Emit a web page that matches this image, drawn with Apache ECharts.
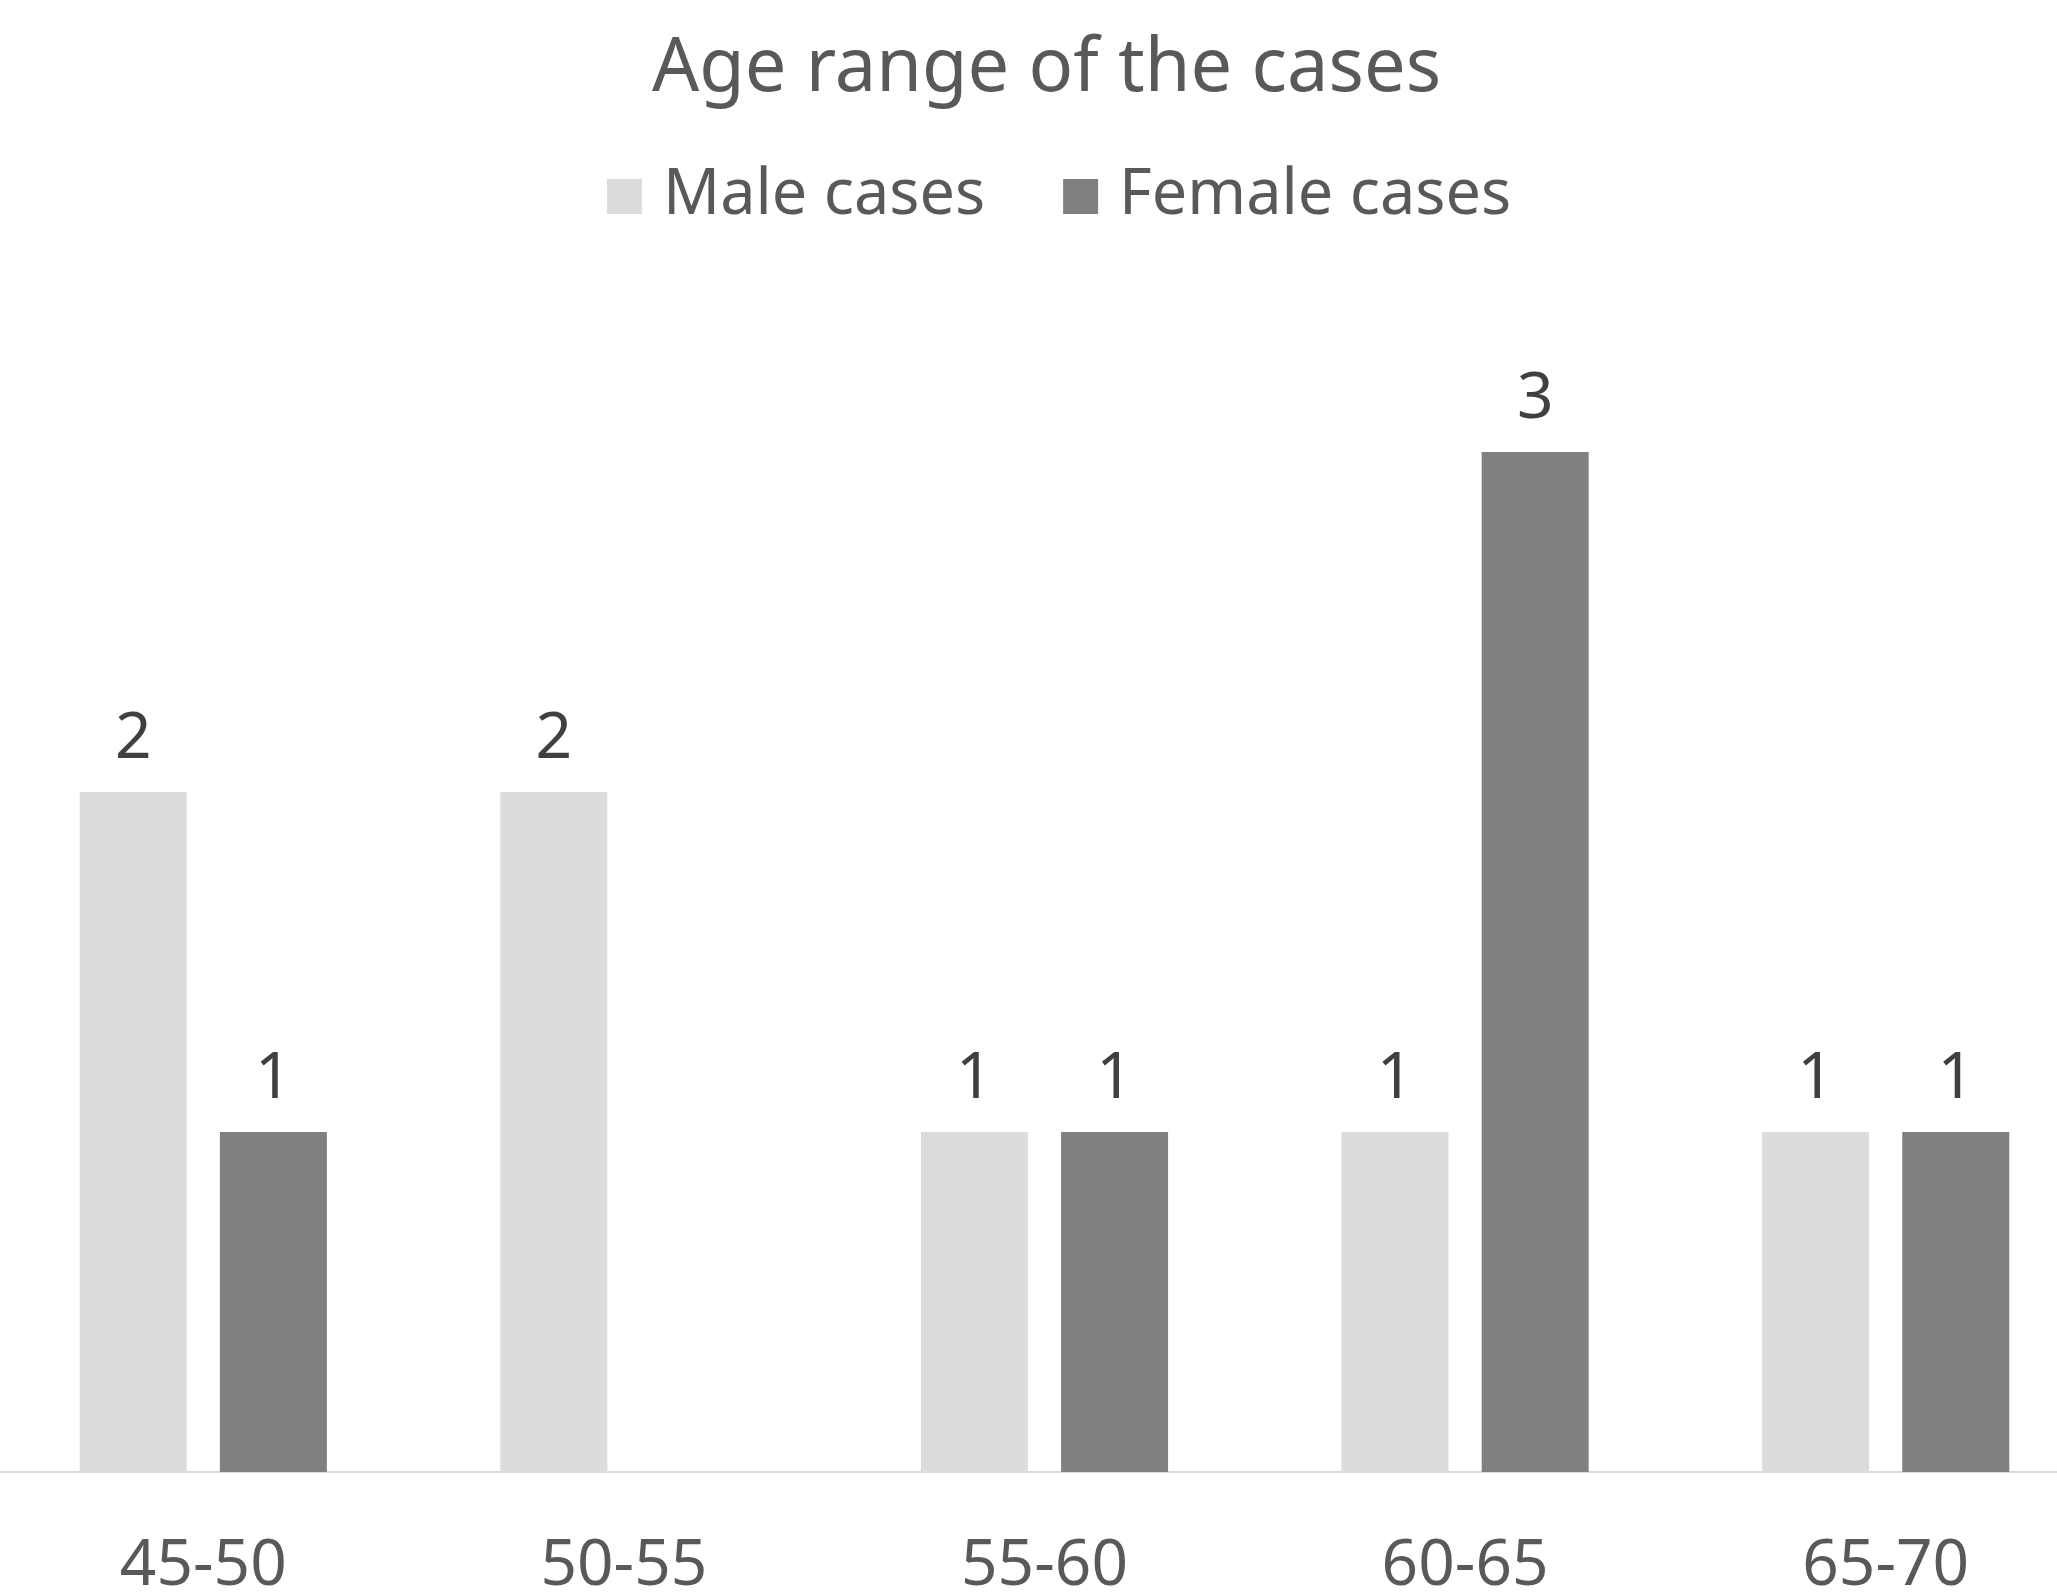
<!DOCTYPE html>
<html>
<head>
<meta charset="utf-8">
<script src="https://cdn.jsdelivr.net/npm/echarts@6/dist/echarts.min.js"></script>
<style>
html,body{margin:0;padding:0;background:#fff;}
#c{width:2057px;height:1594px;}
</style>
</head>
<body>
<div id="c"></div>
<script>
var categories = ['45-50', '50-55', '55-60', '60-65', '65-70'];
var maleCases = [2, 2, 1, 1, 1];
var femaleCases = [1, 0, 1, 3, 1];
var seriesNames = ['Male cases', 'Female cases'];
var titleText = 'Age range of the cases';

var chart = echarts.init(document.getElementById('c'));
var fontFam = '"Noto Sans", "Open Sans", sans-serif';
var labelCfg = {
  show: true,
  position: 'top',
  distance: 20,
  color: '#404040',
  fontSize: 64,
  fontFamily: fontFam,
  formatter: function (p) { return p.value === 0 ? '' : String(p.value); }
};
chart.setOption({
  backgroundColor: '#ffffff',
  animation: false,
  title: {
    text: titleText,
    left: 647,
    top: 28,
    textStyle: { color: '#595959', fontSize: 74, fontWeight: 'normal', fontFamily: fontFam }
  },
  legend: {
    data: seriesNames,
    top: 160,
    left: 602,
    itemWidth: 35,
    itemHeight: 35,
    itemGap: 78,
    icon: 'rect',
    textStyle: { color: '#595959', fontSize: 63, fontFamily: fontFam, padding: [0, 0, 0, 16] }
  },
  grid: { left: -7, width: 2103, top: 282, bottom: 122, containLabel: false, outerBoundsMode: 'none' },
  xAxis: {
    type: 'category',
    data: categories,
    axisLine: { show: true, lineStyle: { color: '#d9d9d9', width: 2 } },
    axisTick: { show: false },
    axisLabel: { color: '#595959', fontSize: 64, fontFamily: fontFam, margin: 63 }
  },
  yAxis: {
    type: 'value',
    min: 0,
    max: 3.5,
    show: false,
    splitLine: { show: false }
  },
  series: [
    {
      name: seriesNames[0],
      type: 'bar',
      data: maleCases,
      barWidth: 107,
      barGap: '31%',
      itemStyle: { color: '#dcdcdc' },
      label: labelCfg
    },
    {
      name: seriesNames[1],
      type: 'bar',
      data: femaleCases,
      barWidth: 107,
      itemStyle: { color: '#808080' },
      label: labelCfg
    }
  ]
});
</script>
</body>
</html>
